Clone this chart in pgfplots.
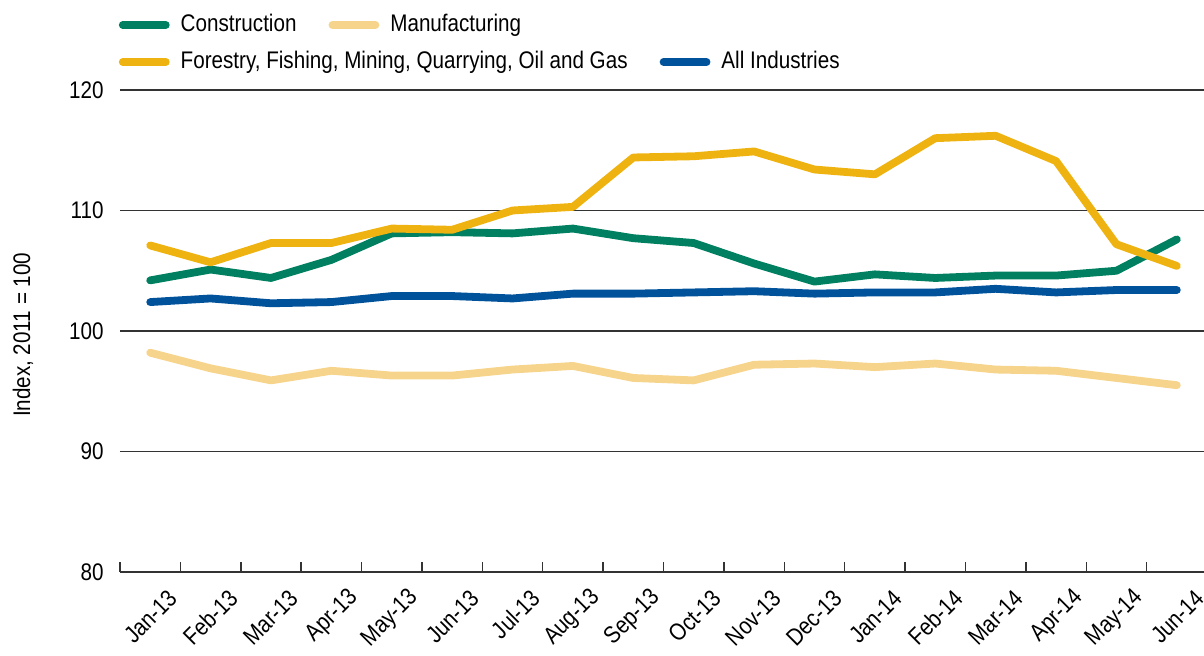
\documentclass[border=0pt]{standalone}
\usepackage{fontspec}
\setmainfont[FakeStretch=0.86]{Liberation Sans}
\usepackage{pgfplots}
\pgfplotsset{compat=1.18}

\definecolor{constr}{RGB}{0,128,96}
\definecolor{manuf}{RGB}{246,212,140}
\definecolor{forest}{RGB}{239,179,17}
\definecolor{allind}{RGB}{0,82,155}
\definecolor{gridc}{RGB}{51,51,51}

\pgfplotsset{
  serie/.style={line width=3.9pt, line cap=round, line join=round, mark=none},
  leg/.style={
    legend style={draw=none, fill=none, inner sep=0pt, anchor=west,
      font=\fontsize{12pt}{14pt}\selectfont,
      /tikz/every odd column/.append style={column sep=3.5pt},
      /tikz/every even column/.append style={column sep=14pt}},
    legend columns=-1,
    legend image code/.code={\draw[##1] (0pt,0pt) -- (21.5pt,0pt);},
  },
  frame/.style={
    scale only axis, width=542pt, height=241pt,
    xmin=-0.5, xmax=17.45, ymin=80, ymax=120,
  },
}

\begin{document}
\fontsize{12pt}{14pt}\selectfont
\begin{tikzpicture}
\useasboundingbox (-60pt,-42pt) rectangle (542pt,286pt);
\begin{axis}[
  frame, leg,
  legend style={at={(axis description cs:-0.0014,1.1349)}},
  axis line style={draw=none},
  ytick={80,90,...,120},
  ymajorgrids,
  grid style={line width=0.75pt, gridc},
  xtick={0,...,17},
  xticklabels={Jan-13,Feb-13,Mar-13,Apr-13,May-13,Jun-13,Jul-13,Aug-13,Sep-13,Oct-13,Nov-13,Dec-13,Jan-14,Feb-14,Mar-14,Apr-14,May-14,Jun-14},
  minor xtick={-0.5,0.5,...,16.5},
  major tick length=0pt,
  minor tick length=5pt,
  tick align=inside,
  xtick pos=lower, ytick pos=left,
  minor x tick style={line width=0.75pt, gridc},
  /pgf/number format/assume math mode=true,
  tick label style={font=\fontsize{12pt}{14pt}\selectfont, text=black},
  yticklabel style={xshift=-4pt},
  xticklabel style={rotate=45, anchor=east, xshift=4.5pt, yshift=-16pt},
  ylabel={Index, 2011 = 100},
  ylabel style={at={(axis description cs:-0.0895,0.492)}, anchor=center, font=\fontsize{12pt}{14pt}\selectfont},
]
\addplot[serie, constr] coordinates {
  (0,104.2) (1,105.1) (2,104.4) (3,105.9) (4,108.1) (5,108.2) (6,108.1) (7,108.5) (8,107.7)
  (9,107.3) (10,105.6) (11,104.1) (12,104.7) (13,104.4) (14,104.6) (15,104.6) (16,105.0) (17,107.6)
};
\addlegendentry{Construction}
\addplot[serie, manuf] coordinates {
  (0,98.2) (1,96.9) (2,95.9) (3,96.7) (4,96.3) (5,96.3) (6,96.8) (7,97.1) (8,96.1)
  (9,95.9) (10,97.2) (11,97.3) (12,97.0) (13,97.3) (14,96.8) (15,96.7) (16,96.1) (17,95.5)
};
\addlegendentry{Manufacturing}
\addplot[serie, forest, forget plot] coordinates {
  (0,107.1) (1,105.7) (2,107.3) (3,107.3) (4,108.5) (5,108.4) (6,110.0) (7,110.3) (8,114.4)
  (9,114.5) (10,114.9) (11,113.4) (12,113.0) (13,116.0) (14,116.2) (15,114.1) (16,107.2) (17,105.4)
};
\addplot[serie, allind, forget plot] coordinates {
  (0,102.4) (1,102.7) (2,102.3) (3,102.4) (4,102.9) (5,102.9) (6,102.7) (7,103.1) (8,103.1)
  (9,103.2) (10,103.3) (11,103.1) (12,103.2) (13,103.2) (14,103.5) (15,103.2) (16,103.4) (17,103.4)
};
\end{axis}
\begin{axis}[
  frame, leg, hide axis,
  legend style={at={(axis description cs:-0.0014,1.0581)}},
]
\addlegendimage{serie, forest}
\addlegendentry{Forestry, Fishing, Mining, Quarrying, Oil and Gas}
\addlegendimage{serie, allind}
\addlegendentry{All Industries}
\end{axis}
\end{tikzpicture}
\end{document}
